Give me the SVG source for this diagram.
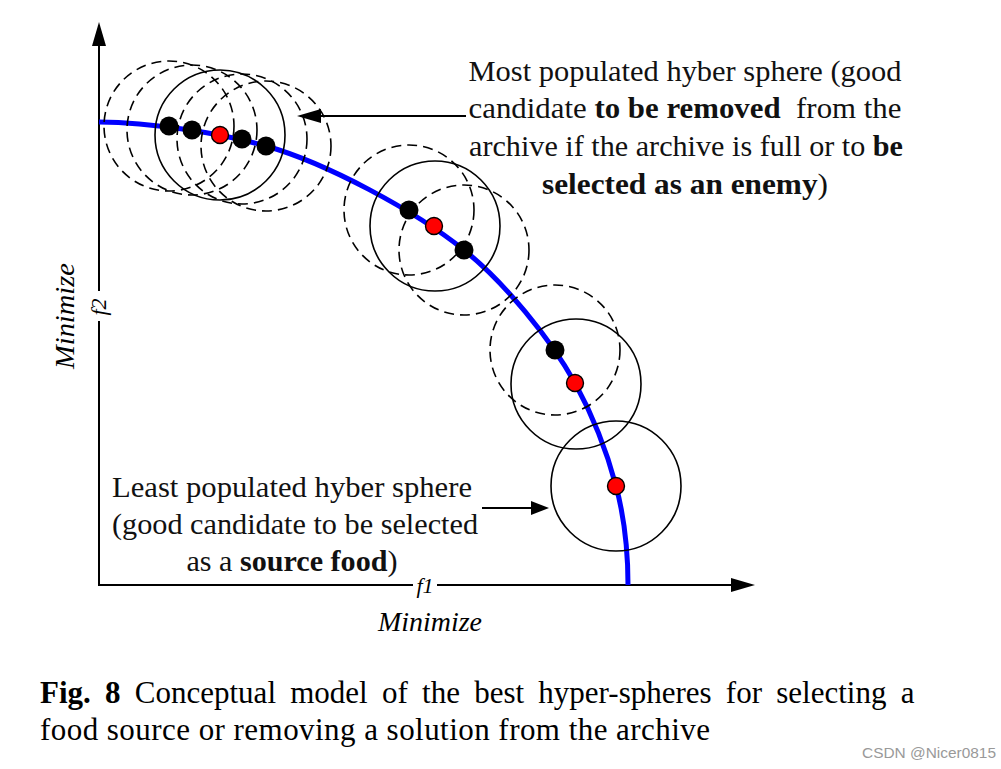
<svg xmlns="http://www.w3.org/2000/svg" width="1001" height="769" viewBox="0 0 1001 769">
<style>
.dash{fill:none;stroke:#000;stroke-width:1.6;stroke-dasharray:10 6}
.sol{fill:none;stroke:#000;stroke-width:1.6}
.blk{fill:#000}
.red{fill:#ff0000;stroke:#000;stroke-width:1.4}
.ax{stroke:#000;stroke-width:2;fill:none}
.lbl{font-family:"Liberation Serif",serif;font-size:29px;fill:#111}
.it{font-family:"Liberation Serif",serif;font-style:italic;fill:#000}
.cap{font-family:"Liberation Serif",serif;font-size:31px;fill:#000}
</style>
<rect width="1001" height="769" fill="#fff"/>
<g id="axes">
<line class="ax" x1="99" y1="585" x2="99" y2="40"/>
<polygon points="99,22 92,46 106,46" fill="#000"/>
<line class="ax" x1="98" y1="585" x2="740" y2="585"/>
<polygon points="755,585 731,578 731,592" fill="#000"/>
<rect x="93" y="291" width="12" height="30" fill="#fff"/>
<rect x="413" y="580" width="24" height="10" fill="#fff"/>
<text class="it" font-size="22" transform="translate(106,307) rotate(-90)" text-anchor="middle">f2</text>
<text class="it" font-size="22" x="425" y="593" text-anchor="middle">f1</text>
<text class="it" font-size="28" transform="translate(74,316) rotate(-90)" text-anchor="middle" textLength="106" lengthAdjust="spacingAndGlyphs">Minimize</text>
<text class="it" font-size="28" x="430" y="631" text-anchor="middle" textLength="104" lengthAdjust="spacingAndGlyphs">Minimize</text>
</g>
<g id="front">
<path d="M99,122 C150,122.5 220,133 266,146 C326,163 414,210 464,250 C504,282 550,338 575,383 C593,416 607,452 616,486 C624,516 628,550 628,585" fill="none" stroke="#0000ff" stroke-width="5"/>
</g>
<g id="sphere1">
<circle class="dash" cx="169" cy="126" r="65"/>
<circle class="dash" cx="192" cy="130" r="65"/>
<circle class="dash" cx="242" cy="139" r="65"/>
<circle class="dash" cx="266" cy="146" r="65"/>
<circle class="sol" cx="220" cy="135" r="65"/>
<circle class="blk" cx="169" cy="126" r="9.5"/>
<circle class="blk" cx="192" cy="130" r="9.5"/>
<circle class="blk" cx="242" cy="139" r="9.5"/>
<circle class="blk" cx="266" cy="146" r="9.5"/>
<circle class="red" cx="220" cy="135" r="8.5"/>
</g>
<g id="sphere2">
<circle class="dash" cx="409" cy="210" r="65"/>
<circle class="dash" cx="464" cy="250" r="65"/>
<circle class="sol" cx="435" cy="226" r="65"/>
<circle class="blk" cx="409" cy="210" r="9.5"/>
<circle class="blk" cx="464" cy="250" r="9.5"/>
<circle class="red" cx="434" cy="226" r="8.5"/>
</g>
<g id="sphere3">
<circle class="dash" cx="555" cy="350" r="65"/>
<circle class="sol" cx="576" cy="384" r="65"/>
<circle class="blk" cx="555" cy="350" r="9.5"/>
<circle class="red" cx="575" cy="383" r="8.5"/>
</g>
<g id="sphere4">
<circle class="sol" cx="616" cy="486" r="65"/>
<circle class="red" cx="616" cy="486" r="8.5"/>
</g>
<g id="connectors">
<line x1="466" y1="116" x2="315" y2="116" stroke="#000" stroke-width="2"/>
<polygon points="297,116 321,109 321,123" fill="#000"/>
<line x1="482" y1="508" x2="535" y2="508" stroke="#000" stroke-width="2"/>
<polygon points="549,508 531,501 531,515" fill="#000"/>
</g>
<g id="most-label">
<text class="lbl" x="685" y="81" text-anchor="middle" textLength="433" lengthAdjust="spacingAndGlyphs">Most populated hyber sphere (good</text>
<text class="lbl" x="685" y="118" text-anchor="middle" textLength="433" lengthAdjust="spacingAndGlyphs" xml:space="preserve">candidate <tspan font-weight="bold">to be removed</tspan>  from the</text>
<text class="lbl" x="686" y="156" text-anchor="middle" textLength="434" lengthAdjust="spacingAndGlyphs">archive if the archive is full or to <tspan font-weight="bold">be</tspan></text>
<text class="lbl" x="685" y="194" text-anchor="middle" textLength="286" lengthAdjust="spacingAndGlyphs"><tspan font-weight="bold">selected as an enemy</tspan>)</text>
</g>
<g id="least-label">
<text class="lbl" x="292" y="497" text-anchor="middle" textLength="360" lengthAdjust="spacingAndGlyphs">Least populated hyber sphere</text>
<text class="lbl" x="295" y="534" text-anchor="middle" textLength="366" lengthAdjust="spacingAndGlyphs">(good candidate to be selected</text>
<text class="lbl" x="292" y="571" text-anchor="middle" textLength="211" lengthAdjust="spacingAndGlyphs">as a <tspan font-weight="bold">source food</tspan>)</text>
</g>
<g id="caption">
<text class="cap" x="40" y="703" word-spacing="6.5"><tspan font-weight="bold">Fig. 8</tspan>  Conceptual model of the best hyper-spheres for selecting a</text>
<text class="cap" x="40" y="740" textLength="670" lengthAdjust="spacing">food source or removing a solution from the archive</text>
</g>
<text x="862" y="758" font-family="'Liberation Sans',Arial,sans-serif" font-size="14" fill="#999" textLength="134" lengthAdjust="spacingAndGlyphs">CSDN @Nicer0815</text>
</svg>
